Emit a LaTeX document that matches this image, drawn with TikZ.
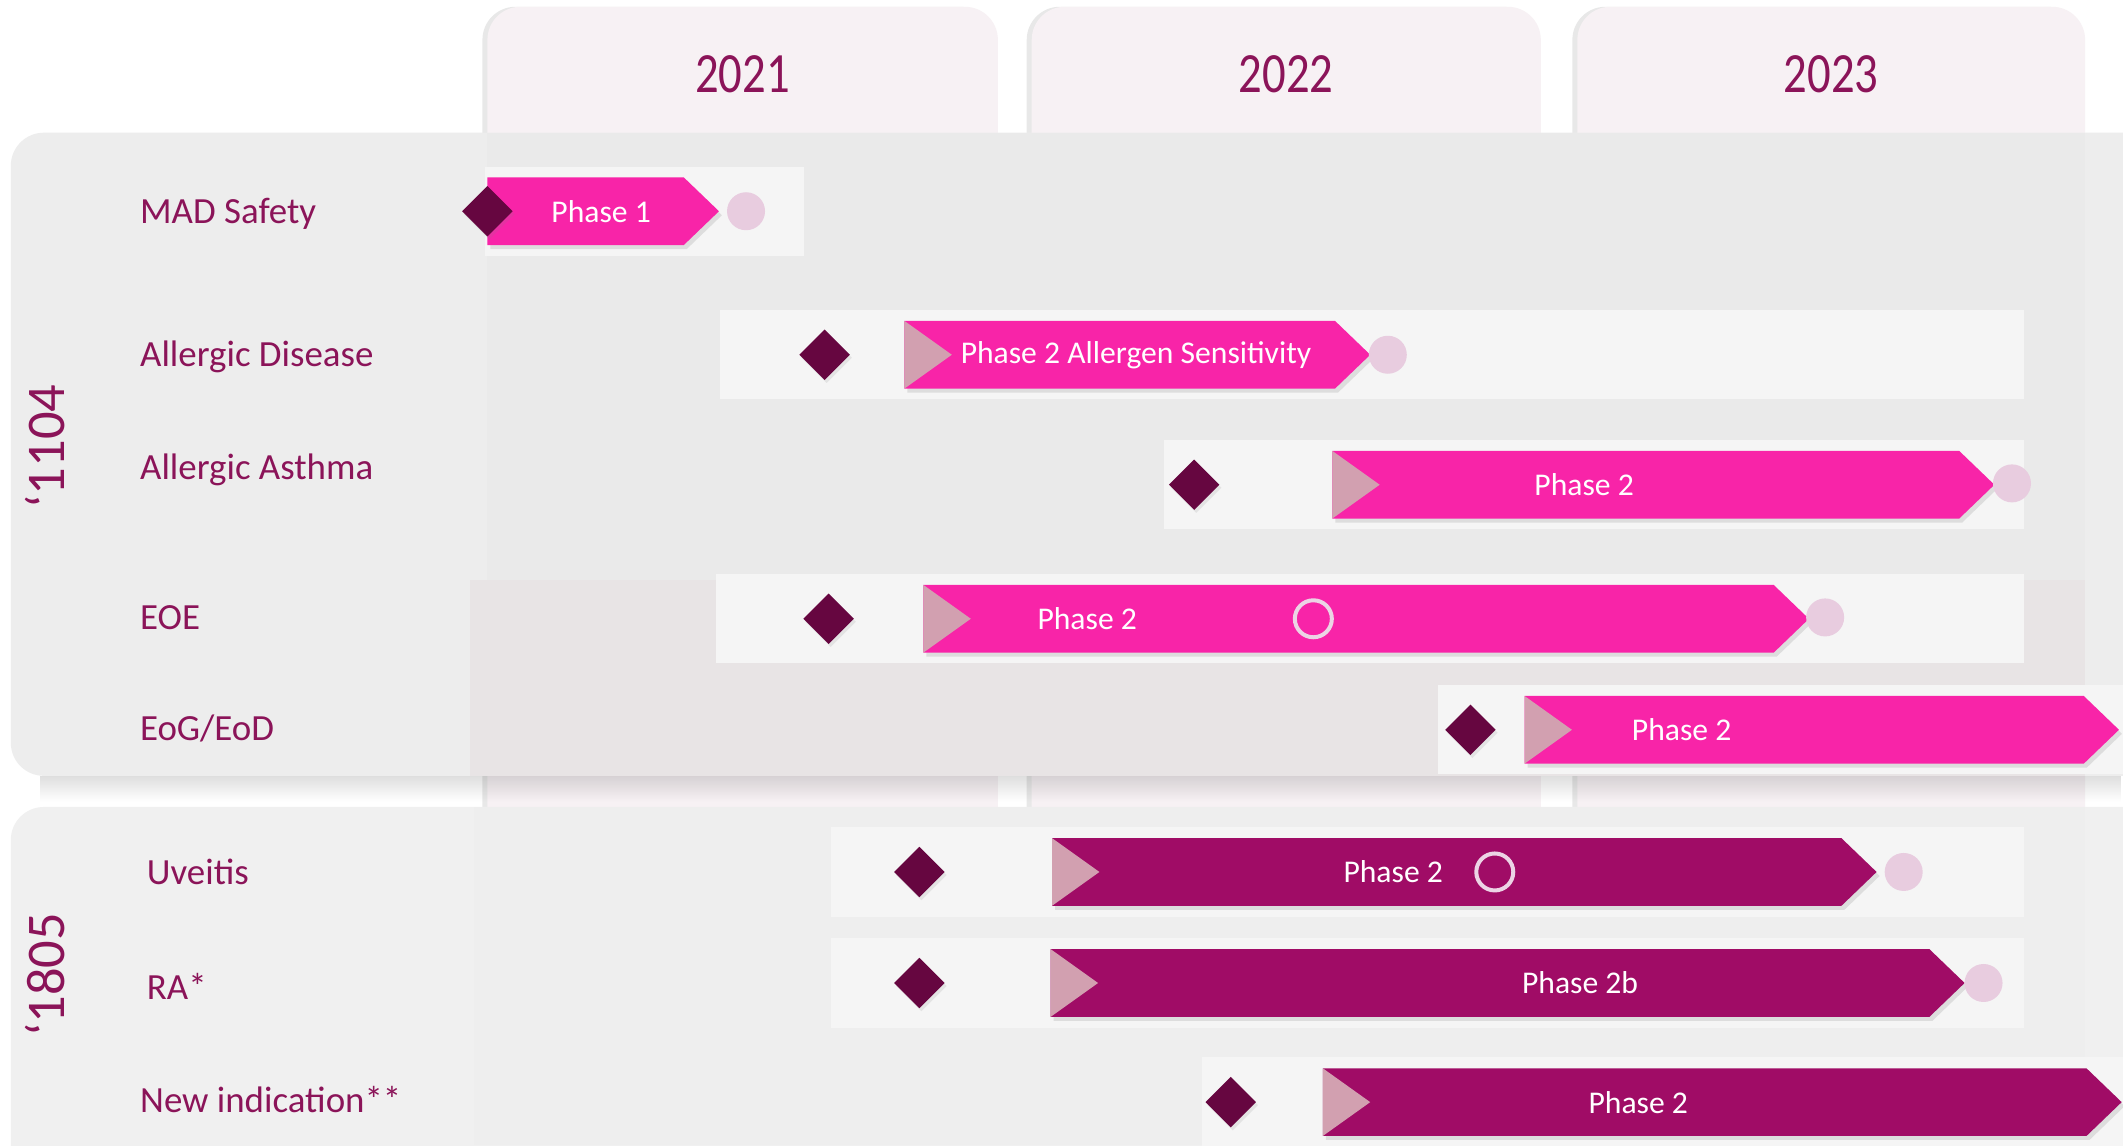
\documentclass[tikz,border=0pt]{standalone}
\usepackage{fontspec}
\setmainfont{Carlito}
\usetikzlibrary{shapes.geometric,shadows,fadings}
\definecolor{plum}{RGB}{139,20,89}
\definecolor{hotpink}{RGB}{248,36,168}
\definecolor{berry}{RGB}{160,12,102}
\definecolor{wine}{RGB}{102,6,64}
\definecolor{blush}{RGB}{232,204,223}
\definecolor{notchc}{RGB}{210,160,176}
\definecolor{ringc}{RGB}{236,212,229}
\definecolor{tabc}{RGB}{247,241,244}
\definecolor{panela}{RGB}{237,237,237}
\definecolor{panelb}{RGB}{240,240,240}
\definecolor{lanec}{RGB}{245,245,245}
\definecolor{haze}{RGB}{232,228,229}
\tikzset{
  yeartab/.style={fill=tabc,rounded corners=3.3mm,
    drop shadow={shadow xshift=-0.5mm,shadow yshift=0mm,opacity=0.18}},
  group/.style={fill=#1,rounded corners=3.3mm},
  lane/.style={fill=lanec},
  bar/.style={fill=#1,drop shadow={shadow xshift=0.3mm,shadow yshift=-0.4mm,opacity=0.2}},
  row/.style={font=\fontsize{10.5}{12}\selectfont,text=plum,anchor=base west,inner sep=0},
  yr/.style={font=\fontsize{16.2}{18}\selectfont,text=plum,xscale=0.82,transform shape},
  drug/.style={font=\fontsize{15.5}{18}\selectfont,text=plum,rotate=90},
  phase/.style={font=\fontsize{9}{11}\selectfont,text=white},
  gate/.style={diamond,fill=wine,minimum width=5.1mm,minimum height=5.1mm,inner sep=0,
    drop shadow={shadow xshift=0.2mm,shadow yshift=-0.3mm,opacity=0.15}},
  done/.style={circle,fill=blush,minimum size=3.8mm,inner sep=0},
  readout/.style={circle,draw=ringc,line width=0.4mm,minimum size=3.7mm,inner sep=0},
}
\begin{document}
\begin{tikzpicture}[x=0.1354mm,y=-0.1354mm]
  \clip (0,0) rectangle (1568,846);
  \fill[white] (0,0) rectangle (1568,846);
  % year columns
  \foreach \yr/\a/\b in {2021/360/737,2022/762/1138,2023/1165/1540}{
    \fill[yeartab] (\a,5) rectangle (\b,900);
    \node[yr] (y\yr) at ({(\a+\b)/2},55) {\yr};
  }
  % the two compound groups
  \fill[group=panela] (8,98) rectangle (1650,573);
  \fill[black,opacity=0.012] (360,98) rectangle (1540,428);
  \fill[haze] (347,428) rectangle (1540,573);
  \fill[black,opacity=0.13,path fading=south] (30,573) rectangle (1568,592);
  \fill[group=panelb] (8,596) rectangle (1650,900);
  \fill[black,opacity=0.008] (350,596) rectangle (1540,846);
  \node[drug] (c1104) at (33,330) {‘1104};
  \node[drug] (c1805) at (33,720) {‘1805};
  % indications
  \foreach \n/\x/\y/\t in {1/103/156/MAD Safety,2/103/262/Allergic Disease,3/103/345/Allergic Asthma,
    4/103/456/EOE,5/103/538/{EoG/EoD},6/108/644/Uveitis,7/108/729/RA*,8/103/813/New indication**}
    \node[row] (l\n) at (\x,\y+9) {\t};
  % lanes, chevrons and start gates
  \foreach \n/\y/\la/\lb/\g/\a/\b/\c/\tx/\t in {
    1/156/358/594/360/360/505/hotpink/444/Phase 1,
    2/262/532/1495/609/668/986/hotpink/839/Phase 2 Allergen Sensitivity,
    3/358/860/1495/882/984/1447/hotpink/1170/Phase 2,
    4/457/529/1495/612/682/1310/hotpink/803/Phase 2,
    5/539/1062/1568/1086/1126/1539/hotpink/1242/Phase 2,
    6/644/614/1495/679/777/1360/berry/1029/Phase 2,
    7/726/614/1495/679/776/1425/berry/1167/Phase 2b,
    8/814/888/1568/909/977/1541/berry/1210/Phase 2}{
    \fill[lane] (\la,\y-33) rectangle (\lb,\y+33);
    \fill[bar=\c] (\a,\y-25) -- (\b,\y-25) -- (\b+26,\y) -- (\b,\y+25) -- (\a,\y+25) -- cycle;
    \node[phase] (p\n) at (\tx,\y) {\t};
  }
  \foreach \n/\a/\y in {2/668/262,3/984/358,4/682/457,5/1126/539,6/777/644,7/776/726,8/977/814}
    \fill[notchc] (\a,\y-25) -- (\a+35,\y) -- (\a,\y+25) -- cycle;
  \foreach \n/\g/\y in {1/360/156,2/609/262,3/882/358,4/612/457,5/1086/539,6/679/644,7/679/726,8/909/814}
    \node[gate] (g\n) at (\g,\y) {};
  % read-outs and completion
  \foreach \n/\x/\y in {4/970/457,6/1104/644}
    \node[readout] (r\n) at (\x,\y) {};
  \foreach \n/\x/\y in {1/551/156,2/1025/262,3/1486/357,4/1348/456,6/1406/644,7/1465/726}
    \node[done] (d\n) at (\x,\y) {};
\end{tikzpicture}
\end{document}
